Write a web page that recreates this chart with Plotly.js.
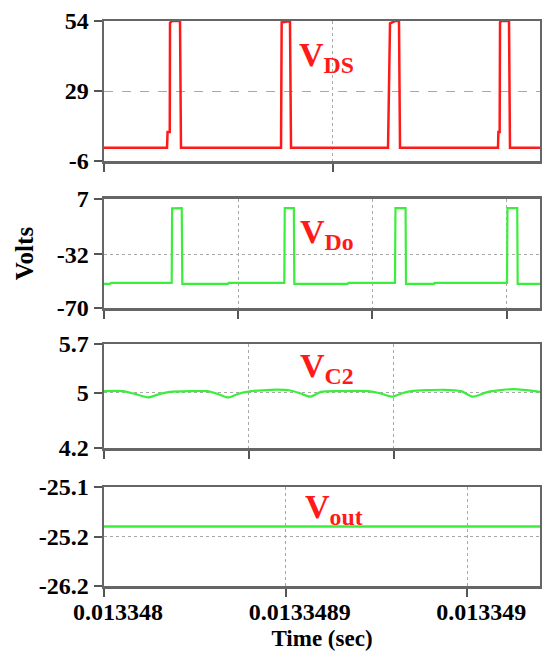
<!DOCTYPE html>
<html>
<head>
<meta charset="utf-8">
<script src="https://cdn.plot.ly/plotly-3.0.1.min.js"></script>
<style>html,body{margin:0;padding:0;background:#fff;}#chart{width:542px;height:651px;}</style>
</head>
<body>
<div id="chart"></div>
<script>
// ---- Data (time in seconds, voltages in volts) ----
const vdsTime = [0.0133480000,0.0133481734,0.0133481750,0.0133481810,0.0133481817,0.0133481872,0.0133482092,0.0133482119,
  0.0133484872,0.0133484890,0.0133485119,0.0133485147,
  0.0133487817,0.0133487872,0.0133488009,0.0133488119,0.0133488147,
  0.0133490844,0.0133490855,0.0133490890,0.0133490900,0.0133490950,0.0133491147,0.0133491174,0.0133492000];
const vdsValues = [-0.3,-0.3,6.4,6.4,53.2,54,54,-0.3,
  -0.3,53.4,54,-0.3,
  -0.3,53.0,54,54,-0.3,
  -0.3,6.4,6.4,53.5,54,54,-0.3,-0.3];

const vdoTime = [0.0133480000,0.0133480165,0.0133480200,0.0133481863,0.0133481875,0.0133482140,0.0133482155,
  0.0133483413,0.0133483430,0.0133484962,0.0133484975,0.0133485225,0.0133485238,
  0.0133486707,0.0133486725,0.0133488009,0.0133488022,0.0133488300,0.0133488312,
  0.0133489083,0.0133489100,0.0133491092,0.0133491105,0.0133491373,0.0133491386,0.0133492000];
const vdoValues = [-53.0,-53.0,-52.2,-52.2,0.4,0.6,-53.0,
  -53.0,-52.2,-52.2,0.5,0.6,-53.0,
  -53.0,-52.2,-52.2,0.5,0.6,-53.0,
  -53.0,-52.2,-52.2,0.5,0.6,-53.0,-53.0];

const vc2Time = [0.0133480000,0.0133480523,0.0133480853,0.0133481211,0.0133481541,0.0133481817,0.0133482367,0.0133482835,
  0.0133483138,0.0133483413,0.0133483688,0.0133483936,0.0133484597,0.0133485119,0.0133485395,0.0133485670,
  0.0133485972,0.0133486440,0.0133487266,0.0133487596,0.0133487927,0.0133488202,0.0133488450,0.0133489358,
  0.0133489826,0.0133490156,0.0133490569,0.0133491285,0.0133492000];
const vc2Values = [5.02,5.02,4.98,4.93,4.98,5.01,5.02,5.02,
  4.98,4.93,4.98,5.01,5.04,5.03,4.99,4.94,
  5.01,5.02,5.02,4.99,4.94,4.99,5.02,5.04,
  5.02,4.94,5.01,5.05,5.01];

const voutTime = [0.0133480000,0.0133486000,0.0133492000];
const voutValues = [-25.18,-25.18,-25.18];

const timeRange = [0.013348, 0.0133492];
const timeTickVals = [0.013348, 0.0133485, 0.013349];
const timeTickText = ['0.013348','0.0133489','0.013349'];
const gridTimes1 = [0.013348, 0.01334863];
const gridTimes2 = [0.013348, 0.013348369, 0.013348738, 0.013349109];
const gridTimes3 = [0.013348, 0.013348399, 0.013348798];

const yTicks1 = [-6, 24, 54],   yText1 = ['-6','29','54'];
const yTicks2 = [-70, -32, 7],  yText2 = ['-70','-32','7'];
const yTicks3 = [4.2, 5, 5.7],  yText3 = ['4.2','5','5.7'];
const yTicks4 = [-25.3, -25.2, -25.1], yText4 = ['-26.2','-25.2','-25.1'];

const labels = ['V<sub>DS</sub>','V<sub>Do</sub>','V<sub>C2</sub>','V<sub>out</sub>'];

// ---- Styling ----
const RED = '#ff1a1a', GREEN = '#3cee3c';
const serif = 'Liberation Serif, Times New Roman, serif';
const tickFont = {family: serif, size: 24, color: '#000', weight: 'bold'};

function xAxis(anchor, vals, text, show) {
  return {
    anchor: anchor, range: timeRange, tickmode: 'array', tickvals: vals, ticktext: text || vals.map(String),
    showticklabels: !!show, ticks: 'outside', ticklen: 8, tickwidth: 2, tickcolor: '#555',
    showline: true, linecolor: '#666', linewidth: 2.5, mirror: true,
    showgrid: true, gridcolor: '#a8a8a8', gridwidth: 1, griddash: 'dot',
    zeroline: false, tickfont: tickFont, fixedrange: true
  };
}
function yAxis(anchor, dom, range, vals, text, dash) {
  return {
    anchor: anchor, domain: dom, range: range, tickmode: 'array', tickvals: vals, ticktext: text,
    ticks: 'outside', ticklen: 8, tickwidth: 2, tickcolor: '#555',
    showline: true, linecolor: '#666', linewidth: 2.5, mirror: true,
    showgrid: true, gridcolor: '#a8a8a8', gridwidth: 1, griddash: dash || 'dot',
    zeroline: false, tickfont: tickFont, fixedrange: true
  };
}

const traces = [
  {x: vdsTime, y: vdsValues, xaxis: 'x', yaxis: 'y', mode: 'lines', line: {color: RED, width: 2.5}, name: 'VDS'},
  {x: vdoTime, y: vdoValues, xaxis: 'x2', yaxis: 'y2', mode: 'lines', line: {color: GREEN, width: 2.2}, name: 'VDo'},
  {x: vc2Time, y: vc2Values, xaxis: 'x3', yaxis: 'y3', mode: 'lines', line: {color: GREEN, width: 2.2, shape: 'spline', smoothing: 0.6}, name: 'VC2'},
  {x: voutTime, y: voutValues, xaxis: 'x4', yaxis: 'y4', mode: 'lines', line: {color: GREEN, width: 2.5}, name: 'Vout'}
];

const labelFont = {family: serif, size: 34, color: RED, weight: 'bold'};
const labelPos = [[0.442, 0.937], [0.446, 0.623], [0.446, 0.385], [0.457, 0.136]];
const annotations = labels.map((t, i) => ({
  text: t, xref: 'paper', yref: 'paper', x: labelPos[i][0], y: labelPos[i][1],
  xanchor: 'left', yanchor: 'middle', showarrow: false, font: labelFont
}));

const layout = {
  width: 542, height: 651,
  margin: {l: 104, r: 2, t: 21, b: 65},
  paper_bgcolor: '#fff', plot_bgcolor: '#fff',
  showlegend: false,
  xaxis: xAxis('y', gridTimes1),
  xaxis2: xAxis('y2', gridTimes2),
  xaxis3: xAxis('y3', gridTimes3),
  xaxis4: Object.assign(xAxis('y4', timeTickVals, timeTickText, true), {
    ticklabelshift: 14, ticklabelstandoff: -5,
    title: {text: 'Time (sec)', font: {family: serif, size: 23, color: '#000', weight: 'bold'}, standoff: 6}
  }),
  yaxis: yAxis('x', [0.7522, 1], [-6, 54], yTicks1, yText1, 'dash'),
  yaxis2: Object.assign(yAxis('x2', [0.4920, 0.6850], [-70, 7], yTicks2, yText2), {
    title: {text: 'Volts', font: {family: serif, size: 25, color: '#000', weight: 'bold'}, standoff: 16}
  }),
  yaxis3: yAxis('x3', [0.2442, 0.4283], [4.2, 5.7], yTicks3, yText3),
  yaxis4: yAxis('x4', [0, 0.1752], [-25.3, -25.1], yTicks4, yText4),
  annotations: annotations
};

Plotly.newPlot('chart', traces, layout, {displayModeBar: false, staticPlot: true});
</script>
</body>
</html>
